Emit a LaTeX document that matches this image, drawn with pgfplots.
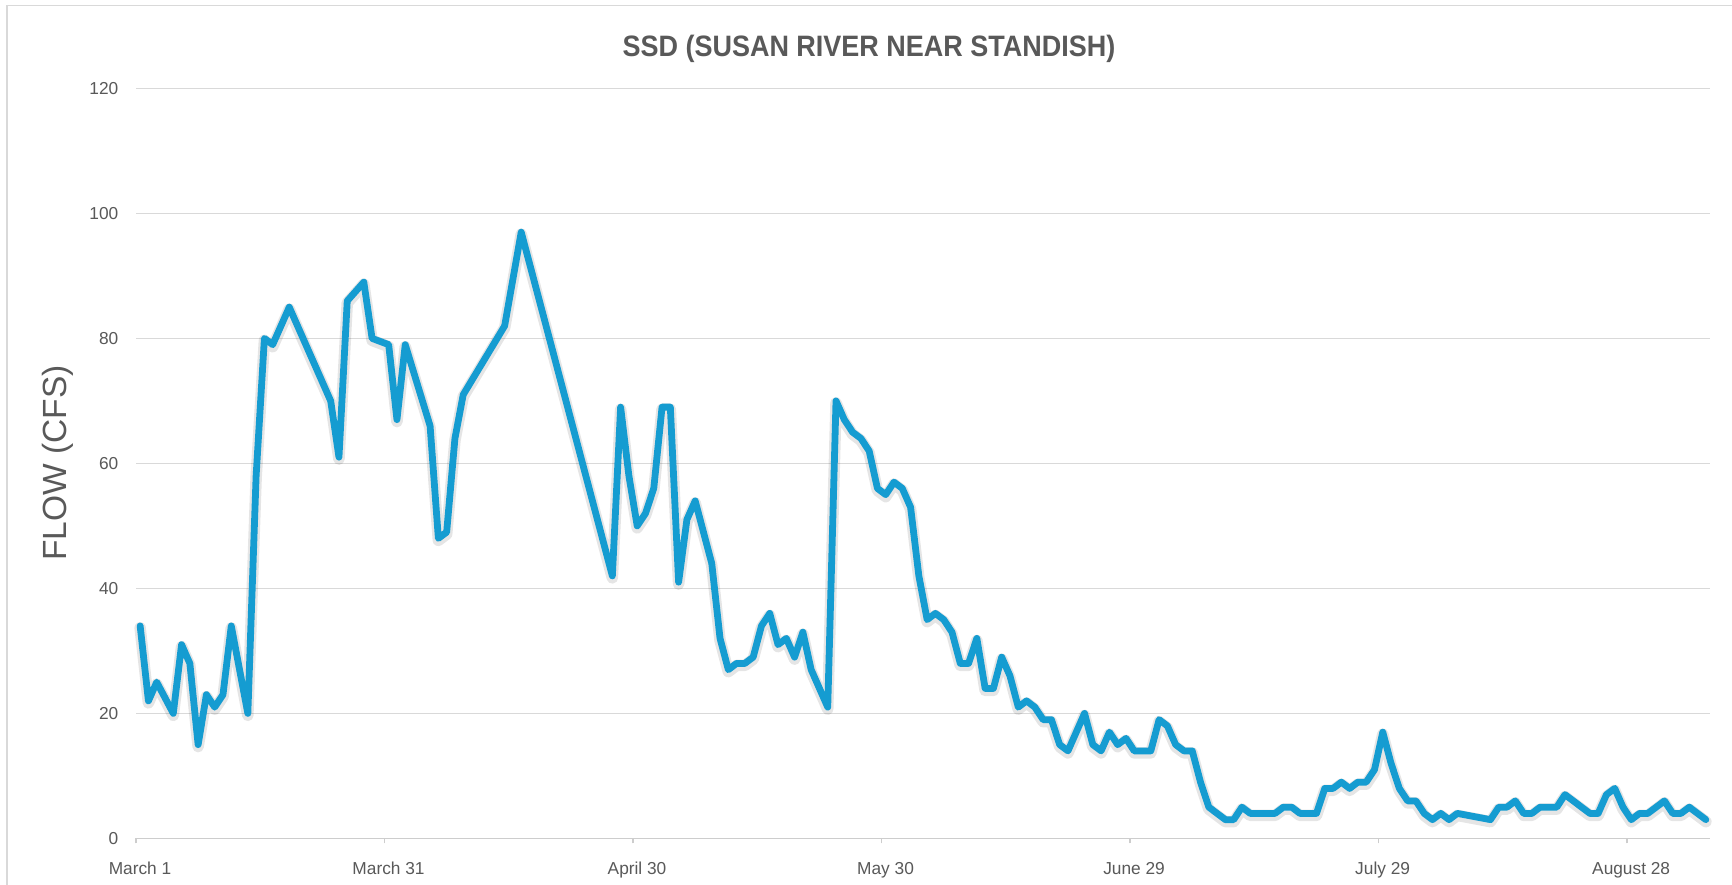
\documentclass[border=0pt]{standalone}
\usepackage{fontspec}
\setmainfont{Liberation Sans}
\newfontfamily\titlefont{Liberation Sans}[FakeStretch=0.915]
\usepackage{pgfplots}
\usepackage{pgfplotstable}
\pgfplotsset{compat=1.18}
\definecolor{lineblue}{RGB}{21,156,209}
\definecolor{txtgray}{RGB}{89,89,89}
\definecolor{gridgray}{RGB}{217,217,217}
\definecolor{axisgray}{RGB}{205,205,205}
\definecolor{bordergray}{RGB}{217,217,217}
\pgfplotstableread{
d v
0 34
1 22
2 25
4 20
5 31
6 28
7 15
8 23
9 21
10 23
11 34
13 20
14 58
15 80
16 79
18 85
23 70
24 61
25 86
27 89
28 80
30 79
31 67
32 79
35 66
36 48
37 49
38 64
39 71
44 82
46 97
57 42
58 69
59 58
60 50
61 52
62 56
63 69
64 69
65 41
66 51
67 54
69 44
70 32
71 27
72 28
73 28
74 29
75 34
76 36
77 31
78 32
79 29
80 33
81 27
83 21
84 70
85 67
86 65
87 64
88 62
89 56
90 55
91 57
92 56
93 53
94 42
95 35
96 36
97 35
98 33
99 28
100 28
101 32
102 24
103 24
104 29
105 26
106 21
107 22
108 21
109 19
110 19
111 15
112 14
113 17
114 20
115 15
116 14
117 17
118 15
119 16
120 14
121 14
122 14
123 19
124 18
125 15
126 14
127 14
128 9
129 5
130 4
131 3
132 3
133 5
134 4
135 4
136 4
137 4
138 5
139 5
140 4
141 4
142 4
143 8
144 8
145 9
146 8
147 9
148 9
149 11
150 17
151 12
152 8
153 6
154 6
155 4
156 3
157 4
158 3
159 4
163 3
164 5
165 5
166 6
167 4
168 4
169 5
170 5
171 5
172 7
173 6
174 5
175 4
176 4
177 7
178 8
179 5
180 3
181 4
182 4
183 5
184 6
185 4
186 4
187 5
188 4
189 3
}\flow
\begin{document}
\begin{tikzpicture}
\useasboundingbox (0pt,0pt) rectangle (1732pt,884pt);
\fill[white] (0pt,0pt) rectangle (1732pt,884pt);
\draw[bordergray, line width=1.6pt] (6.7pt,-20pt) -- (6.7pt,878.3pt) -- (1760pt,878.3pt);
\begin{axis}[
  at={(136pt,45.6pt)}, anchor=south west,
  scale only axis, width=1574pt, height=750pt,
  xmin=0, xmax=190, ymin=0, ymax=120,
  xtick={0,30,60,90,120,150,180},
  xticklabels={March 1,March 31,April 30,May 30,June 29,July 29,August 28},
  ytick={0,20,40,60,80,100,120},
  axis x line*=bottom, axis y line*=left,
  x axis line style={draw=axisgray, line width=1.6pt, -},
  y axis line style={draw=none},
  ytick style={draw=none},
  xtick style={draw=axisgray, line width=1.6pt},
  xtick align=outside, major tick length=5pt,
  ymajorgrids, major grid style={gridgray, line width=1.6pt},
  /pgf/number format/assume math mode=true,
  ticklabel style={font=\fontsize{17.3}{20}\selectfont, text=txtgray},
  yticklabel style={inner sep=0pt, anchor=east, xshift=-17.5pt},
  xticklabel style={inner sep=0pt, anchor=base, yshift=-31pt, xshift=4pt},
  clip=false,
]
\addplot[black, opacity=0.10, line width=11.5pt, line join=round, line cap=round, shift={(0pt,-2pt)}, forget plot] table[x expr=\thisrow{d}+0.5, y=v] {\flow};
\addplot[lineblue, line width=6.8pt, line join=round, line cap=round] table[x expr=\thisrow{d}+0.5, y=v] {\flow};
\end{axis}
\node[anchor=base, text=txtgray, font=\titlefont\bfseries\fontsize{29.5}{32}\selectfont] at (869pt,827pt) {SSD (SUSAN RIVER NEAR STANDISH)};
\node[rotate=90, text=txtgray, font=\fontsize{33.5}{38}\selectfont] at (58pt,421pt) {FLOW (CFS)};
\end{tikzpicture}
\end{document}
